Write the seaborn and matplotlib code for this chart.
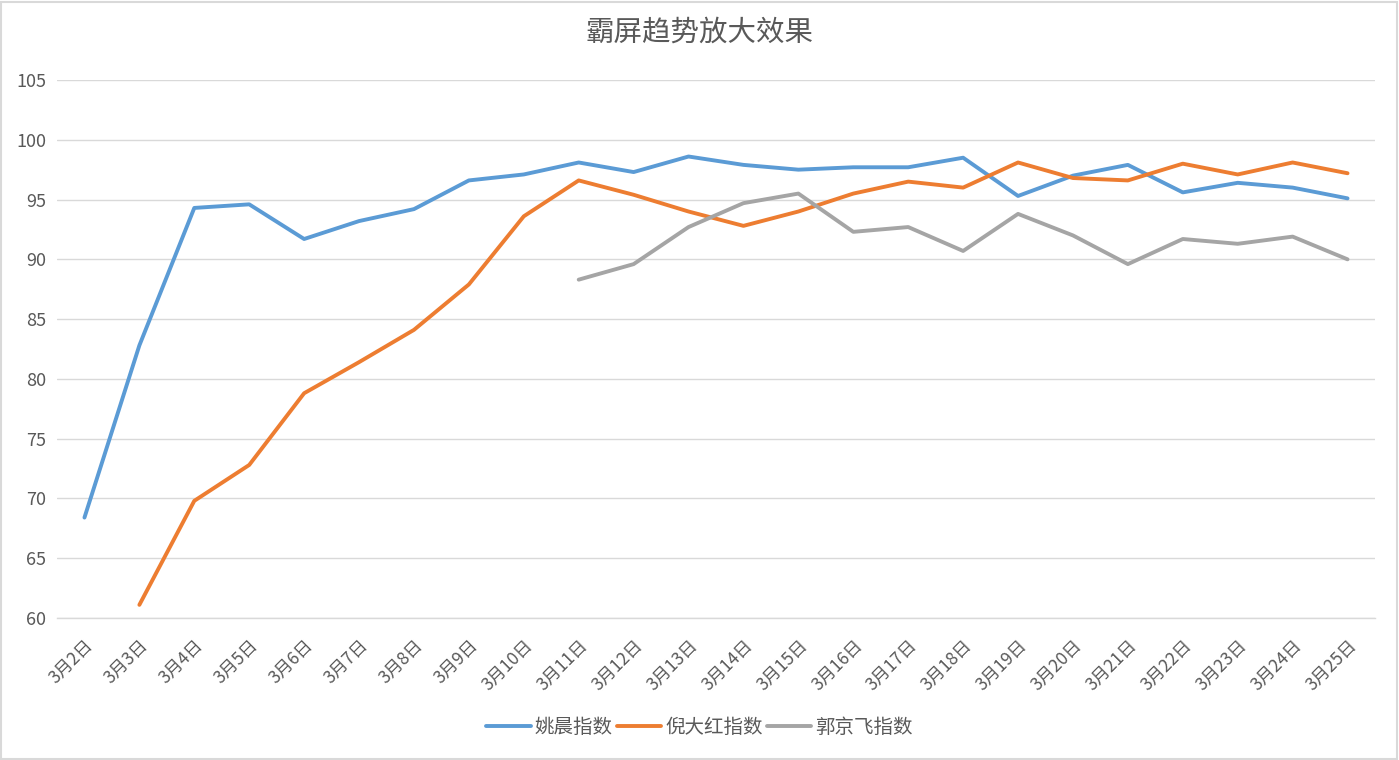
import numpy as np
import pandas as pd
import matplotlib
matplotlib.use("Agg")
import matplotlib.pyplot as plt
import seaborn as sns
from matplotlib.patches import Rectangle

dates = [f"3月{d}日" for d in range(2, 26)]
yao_chen = [68.4, 82.8, 94.3, 94.6, 91.7, 93.2, 94.2, 96.6, 97.1, 98.1, 97.3, 98.6,
            97.9, 97.5, 97.7, 97.7, 98.5, 95.3, 97.0, 97.9, 95.6, 96.4, 96.0, 95.1]
ni_dahong = [np.nan, 61.1, 69.8, 72.8, 78.8, 81.4, 84.1, 87.9, 93.6, 96.6, 95.4, 94.0,
             92.8, 94.0, 95.5, 96.5, 96.0, 98.1, 96.8, 96.6, 98.0, 97.1, 98.1, 97.2]
guo_jingfei = [np.nan] * 9 + [88.3, 89.6, 92.7, 94.7, 95.5, 92.3, 92.7, 90.7, 93.8,
                              92.0, 89.6, 91.7, 91.3, 91.9, 90.0]
series_names = ["姚晨指数", "倪大红指数", "郭京飞指数"]
colors = ["#5B9BD5", "#ED7D31", "#A5A5A5"]
yticks = [60, 65, 70, 75, 80, 85, 90, 95, 100, 105]

rows = []
for name, vals in zip(series_names, [yao_chen, ni_dahong, guo_jingfei]):
    for d, v in zip(dates, vals):
        rows.append({"date": d, "value": v, "series": name})
df = pd.DataFrame(rows)
df["date"] = pd.Categorical(df["date"], categories=dates, ordered=True)
df["x"] = df["date"].cat.codes

sns.set_theme(style="white")
plt.rcParams["font.family"] = ["Noto Sans CJK SC", "DejaVu Sans"]

fig = plt.figure(figsize=(13.99, 7.6), dpi=100)
ax = fig.add_axes([57/1399, 1-618/760, (1375-57)/1399, (618-80)/760])

sns.lineplot(data=df.dropna(), x="x", y="value", hue="series", hue_order=series_names,
             palette=colors, linewidth=2.8, ax=ax, sort=True, legend=True)

ax.set_xlim(-0.5, len(dates) - 0.5)
ax.set_ylim(60, 105)
ax.set_yticks(yticks)
ax.set_yticklabels([str(t) for t in yticks], fontweight="light")
ax.set_xticks(range(len(dates)))
ax.set_xticklabels(dates, rotation=45, ha="right", rotation_mode="anchor", fontweight="light")
ax.set_xticks(np.arange(-0.5, len(dates), 1.0), minor=True)
ax.tick_params(axis="x", which="major", length=0, pad=13, labelsize=12.5, labelcolor="#595959")
ax.tick_params(axis="x", which="minor", length=6, color="#D9D9D9", width=1, direction="out")
ax.tick_params(axis="y", length=0, labelsize=13, labelcolor="#595959", pad=8)
ax.set_xlabel("")
ax.set_ylabel("")
ax.grid(axis="y", color="#D9D9D9", linewidth=1)
ax.set_axisbelow(True)
for s in ["top", "right", "left"]:
    ax.spines[s].set_visible(False)
ax.spines["bottom"].set_color("#D9D9D9")
ax.spines["bottom"].set_linewidth(1)

ax.get_legend().remove()
handles, labels = ax.get_legend_handles_labels()
fig.legend(handles, labels, loc="center", bbox_to_anchor=(0.5, 1-727/760), ncol=3,
           frameon=False, handlelength=2.3, columnspacing=0.2,
           handletextpad=0.2, labelcolor="#595959", prop={"size": 14, "weight": "light"})

fig.text(0.5, 1-33/760, "霸屏趋势放大效果", ha="center", va="center",
         fontsize=20.5, color="#595959", fontweight="light")

fig.patches.append(Rectangle((0.0005, 0.001), 0.998, 0.997, transform=fig.transFigure,
                             fill=False, edgecolor="#D9D9D9", linewidth=1.5))

fig.savefig("out.png", dpi=100)
